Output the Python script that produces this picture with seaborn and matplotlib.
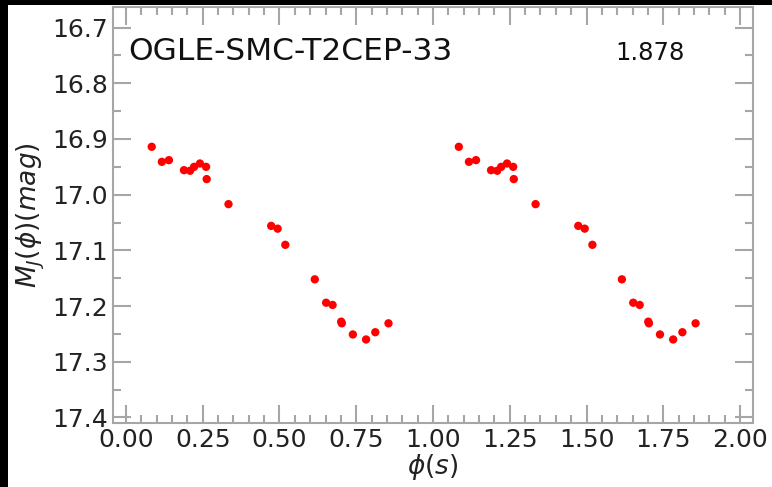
import matplotlib
matplotlib.use("Agg")
import matplotlib.pyplot as plt
import seaborn as sns
import pandas as pd
import numpy as np
from matplotlib.ticker import MultipleLocator
from matplotlib.patches import Rectangle

# Data (one pulsation cycle, repeated at phase + 1)
phase = [0.084, 0.117, 0.140, 0.189, 0.209, 0.222, 0.241, 0.261, 0.263,
         0.334, 0.473, 0.494, 0.519, 0.615, 0.652, 0.673, 0.701, 0.703,
         0.739, 0.782, 0.812, 0.855]
mag = [16.914, 16.941, 16.938, 16.956, 16.957, 16.950, 16.944, 16.950, 16.972,
       17.017, 17.056, 17.061, 17.090, 17.152, 17.194, 17.198, 17.228, 17.231,
       17.251, 17.260, 17.247, 17.231]
star_name = "OGLE-SMC-T2CEP-33"
period_label = "1.878"

df = pd.DataFrame({
    "phase": list(phase) + [p + 1 for p in phase],
    "mag": list(mag) * 2,
})

sns.set_theme(style="white")
plt.rcParams['font.family'] = ['DejaVu Sans']
plt.rcParams['mathtext.fontset'] = 'dejavusans'

fig = plt.figure(figsize=(7.72, 4.87), dpi=100)
fig.patch.set_facecolor('white')
ax = fig.add_axes([0.1464, 0.1314, 0.8290, 0.8542])

sns.scatterplot(data=df, x="phase", y="mag", ax=ax, color="red",
                s=36, edgecolor="none", linewidth=0, zorder=3)

ax.set_xlim(-0.042, 2.042)
ax.set_ylim(17.41, 16.663)
ax.xaxis.set_major_locator(MultipleLocator(0.25))
ax.xaxis.set_minor_locator(MultipleLocator(0.05))
ax.yaxis.set_major_locator(MultipleLocator(0.1))
ax.yaxis.set_minor_locator(MultipleLocator(0.05))
ax.xaxis.set_major_formatter(matplotlib.ticker.FormatStrFormatter('%.2f'))
ax.yaxis.set_major_formatter(matplotlib.ticker.FormatStrFormatter('%.1f'))

spine_col = '#a6a6a6'
for s in ax.spines.values():
    s.set_color(spine_col)
    s.set_linewidth(1.5)
ax.tick_params(which='both', direction='in', top=True, right=True,
               bottom=True, left=True, color=spine_col, width=1.5,
               labelcolor='#222222', labelsize=18)
ax.tick_params(which='major', length=13)
ax.tick_params(which='minor', length=6)

ax.set_xlabel(r"$\phi(s)$", fontsize=19, color='#222222', labelpad=0)
ax.set_ylabel(r"$M_J(\phi)(mag)$", fontsize=19, color='#222222', labelpad=4)

ax.text(0.024, 0.894, star_name, transform=ax.transAxes, fontsize=22.5,
        color='#111111', va='center', ha='left')
ax.text(0.785, 0.89, period_label, transform=ax.transAxes, fontsize=17.5,
        color='#111111', va='center', ha='left')

# black border strips of the reference image
fig.patches.append(Rectangle((0, 0), 8 / 772, 1, transform=fig.transFigure,
                             facecolor='black', edgecolor='none', zorder=10))
fig.patches.append(Rectangle((0, 1 - 5 / 487), 1, 5 / 487, transform=fig.transFigure,
                             facecolor='black', edgecolor='none', zorder=10))

fig.savefig("out.png", dpi=100, facecolor='white')
